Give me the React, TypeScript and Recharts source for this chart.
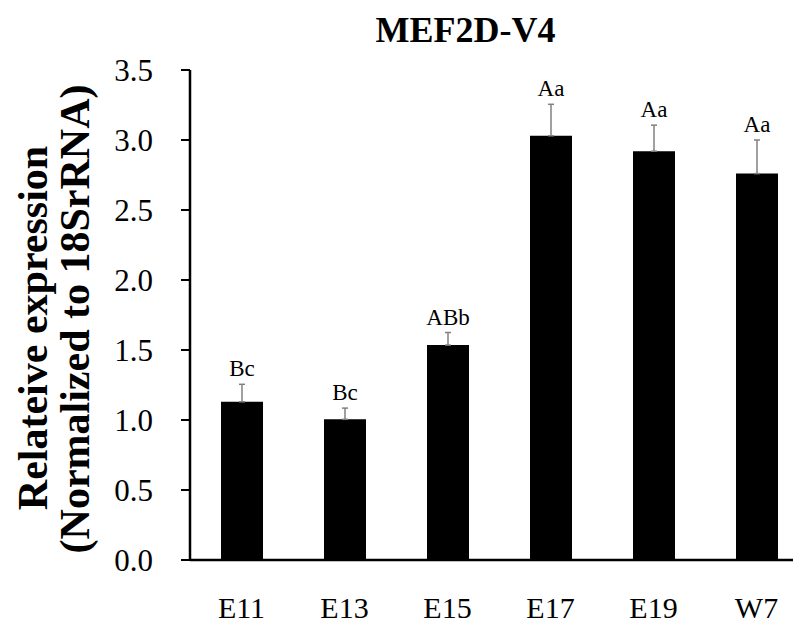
import React from 'react';
import { BarChart, Bar, XAxis, YAxis, ErrorBar, LabelList } from 'recharts';

const categories = ['E11', 'E13', 'E15', 'E17', 'E19', 'W7'];
const means = [1.13, 1.005, 1.535, 3.03, 2.92, 2.76];
const errors = [0.125, 0.08, 0.09, 0.225, 0.186, 0.24];
const letters = ['Bc', 'Bc', 'ABb', 'Aa', 'Aa', 'Aa'];
const yTicks = [0, 0.5, 1.0, 1.5, 2.0, 2.5, 3.0, 3.5];

const data = categories.map((c, i) => ({
  name: c,
  value: means[i],
  err: [0, errors[i]],
}));

const FONT = "'Liberation Serif', 'Times New Roman', serif";

const LetterLabel = (props: any) => {
  const { x, y, width, height, index } = props;
  const i = typeof index === 'number' ? index : 0;
  const v = means[i];
  const pxPerUnit = v ? height / v : 0;
  const topY = y - errors[i] * pxPerUnit;
  return (
    <text
      x={x + width / 2}
      y={topY - 8}
      textAnchor="middle"
      fontFamily={FONT}
      fontSize={23}
      fill="#000"
    >
      {letters[i]}
    </text>
  );
};

const YTitle = () => (
  <g>
    <text
      x={0}
      y={0}
      transform="translate(39,320) rotate(-90)"
      textAnchor="middle"
      fontFamily={FONT}
      fontWeight="bold"
      fontSize={42}
      fill="#000"
    >
      Relateive expression
    </text>
    <text
      x={0}
      y={0}
      transform="translate(81,311) rotate(-90)"
      textAnchor="middle"
      fontFamily={FONT}
      fontWeight="bold"
      fontSize={42}
      fill="#000"
    >
      (Normalized to 18SrRNA)
    </text>
  </g>
);

export default function App() {
  return (
    <div style={{ position: 'relative', width: 793, height: 618, overflow: 'hidden', background: '#fff' }}>
      <div
        style={{
          position: 'absolute',
          left: 0,
          top: 0,
          width: 915,
          textAlign: 'center',
          fontFamily: FONT,
          fontWeight: 'bold',
          fontSize: 36,
          lineHeight: '36px',
          paddingTop: 4,
          color: '#000',
        }}
      >
        MEF2D-V4
      </div>
      <BarChart
        width={800}
        height={618}
        data={data}
        margin={{ top: 62, right: 0, left: 0, bottom: 0 }}
        barCategoryGap={0}
      >
        <XAxis
          dataKey="name"
          height={66}
          tickLine={false}
          tickSize={0}
          tickMargin={37}
          axisLine={{ stroke: '#000', strokeWidth: 2.5 }}
          tick={{ fontFamily: FONT, fontSize: 30, fill: '#000' }}
        />
        <YAxis
          width={182}
          domain={[0, 3.5]}
          ticks={yTicks}
          interval={0}
          tickFormatter={(v: number) => v.toFixed(1)}
          tickSize={9}
          tickMargin={28}
          axisLine={{ stroke: '#000', strokeWidth: 2.5 }}
          tickLine={{ stroke: '#000', strokeWidth: 2 }}
          tick={{ fontFamily: FONT, fontSize: 31, fill: '#000' }}
          label={<YTitle />}
        />
        <Bar dataKey="value" fill="#000" barSize={42} isAnimationActive={false}>
          <ErrorBar dataKey="err" width={3} stroke="#808080" strokeWidth={1.5} direction="y" />
          <LabelList dataKey="value" content={<LetterLabel />} />
        </Bar>
      </BarChart>
    </div>
  );
}
